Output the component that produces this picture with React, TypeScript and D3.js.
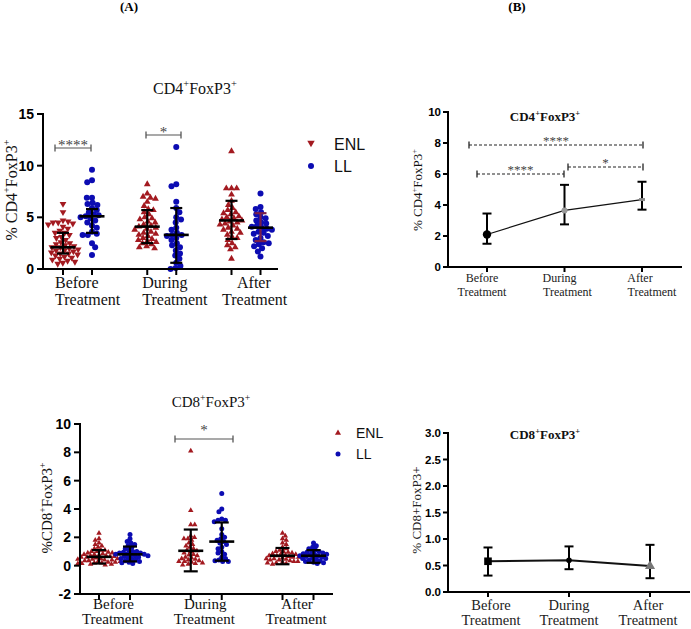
import React from "react";
import * as d3 from "d3";

const W = 691;
const H = 629;

const groups = ["Before", "During", "After"];
const xLine1 = ["Before", "During", "After"];
const xLine2 = ["Treatment", "Treatment", "Treatment"];

// ---------- (A) CD4+FoxP3+ scatter ----------
const cd4BeforeENL = [6.3, 5.5, 4.7, 4.6, 4.5, 4.5, 4.4, 4.3, 4.1, 3.9, 3.7, 3.5, 3.5, 3.3, 3.1, 3.0, 2.8, 2.6, 2.5, 2.4, 2.3, 2.2, 2.1, 2.1, 2.0, 1.9, 1.8, 1.8, 1.7, 1.6, 1.5, 1.5, 1.4, 1.3, 1.2, 1.1, 1.0, 0.9, 0.8, 0.7, 0.6, 0.5];
const cd4BeforeLL = [9.6, 8.6, 8.4, 6.9, 6.9, 6.4, 6.3, 6.2, 5.9, 5.7, 5.5, 5.3, 5.2, 5.1, 5.0, 4.9, 4.7, 4.5, 4.2, 4.0, 3.6, 3.4, 3.3, 3.3, 2.5, 2.1, 1.35];
const cd4DuringENL = [8.2, 7.3, 7.0, 6.9, 6.8, 6.5, 6.1, 5.8, 5.7, 5.5, 5.3, 5.0, 4.9, 4.8, 4.6, 4.5, 4.3, 4.2, 4.1, 4.0, 3.9, 3.8, 3.6, 3.5, 3.4, 3.3, 3.2, 3.0, 2.9, 2.8, 2.7, 2.6, 2.5, 2.4, 2.2, 2.1, 2.0];
const cd4DuringLL = [11.8, 8.2, 8.0, 6.5, 5.9, 5.5, 5.0, 4.8, 4.5, 4.0, 3.8, 3.5, 3.3, 3.3, 3.2, 3.0, 2.8, 2.5, 2.3, 2.1, 1.8, 1.5, 1.3, 1.0, 0.6, 0.3, 0.1, 0.0];
const cd4AfterENL = [11.4, 7.8, 7.8, 7.8, 7.2, 6.6, 6.2, 5.9, 5.7, 5.5, 5.4, 5.3, 5.1, 5.0, 4.9, 4.8, 4.7, 4.6, 4.5, 4.4, 4.3, 4.2, 4.0, 3.9, 3.8, 3.6, 3.5, 3.3, 3.1, 3.0, 2.8, 2.5, 2.3, 2.1, 1.9, 1.0];
const cd4AfterLL = [7.3, 6.0, 5.8, 5.5, 5.3, 5.0, 4.9, 4.7, 4.5, 4.4, 4.2, 4.1, 4.0, 3.9, 3.8, 3.6, 3.5, 3.4, 3.2, 3.0, 2.8, 2.6, 2.5, 2.4, 2.2, 2.0, 1.7, 1.2];

const cd4MedianENL = [2.1, 4.1, 4.7];
const cd4LowENL = [1.5, 2.5, 2.9];
const cd4HighENL = [3.5, 5.7, 6.6];
const cd4MedianLL = [5.1, 3.3, 4.0];
const cd4LowLL = [3.5, 0.6, 2.7];
const cd4HighLL = [5.8, 5.9, 5.4];
const cd4Ticks = [0, 5, 10, 15];

// ---------- (A) CD8+FoxP3+ scatter ----------
const cd8BeforeENL = [2.3, 1.9, 1.8, 1.6, 1.5, 1.4, 1.3, 1.2, 1.1, 1.1, 1.0, 1.0, 0.95, 0.9, 0.9, 0.85, 0.8, 0.8, 0.75, 0.7, 0.7, 0.65, 0.65, 0.6, 0.6, 0.55, 0.5, 0.5, 0.45, 0.45, 0.4, 0.4, 0.35, 0.35, 0.3, 0.3, 0.25, 0.25, 0.2, 0.2, 0.15, 0.15, 0.1, 0.1, 0.05];
const cd8BeforeLL = [2.2, 1.9, 1.7, 1.6, 1.5, 1.4, 1.3, 1.2, 1.1, 1.0, 1.0, 0.95, 0.9, 0.9, 0.85, 0.8, 0.8, 0.75, 0.7, 0.7, 0.65, 0.6, 0.55, 0.5, 0.45, 0.4, 0.35, 0.3, 0.25, 0.2, 0.15];
const cd8DuringENL = [8.1, 3.9, 2.9, 2.9, 2.1, 2.0, 1.9, 1.9, 1.8, 1.6, 1.5, 1.4, 1.3, 1.2, 1.1, 1.05, 1.0, 0.9, 0.8, 0.75, 0.7, 0.6, 0.55, 0.5, 0.45, 0.4, 0.35, 0.3, 0.3, 0.25, 0.2, 0.15, 0.1, 0.05];
const cd8DuringLL = [5.1, 4.0, 3.8, 3.3, 3.2, 3.2, 3.1, 2.6, 2.2, 2.0, 1.9, 1.8, 1.7, 1.6, 1.5, 1.3, 1.2, 1.0, 0.9, 0.8, 0.6, 0.5, 0.4, 0.35, 0.3, 0.3];
const cd8AfterENL = [2.3, 2.1, 1.9, 1.8, 1.6, 1.5, 1.3, 1.2, 1.1, 1.0, 1.0, 0.95, 0.9, 0.85, 0.8, 0.8, 0.75, 0.7, 0.7, 0.65, 0.6, 0.6, 0.55, 0.5, 0.5, 0.45, 0.4, 0.4, 0.35, 0.3, 0.3, 0.25, 0.2, 0.2, 0.15, 0.1];
const cd8AfterLL = [1.6, 1.4, 1.3, 1.2, 1.1, 1.0, 1.0, 0.95, 0.9, 0.85, 0.8, 0.8, 0.75, 0.7, 0.7, 0.65, 0.6, 0.55, 0.5, 0.5, 0.45, 0.4, 0.35, 0.3, 0.25, 0.2, 0.15];

const cd8MedianENL = [0.62, 1.05, 0.7];
const cd8LowENL = [0.15, -0.4, 0.1];
const cd8HighENL = [1.1, 2.55, 1.25];
const cd8MedianLL = [0.8, 1.7, 0.7];
const cd8LowLL = [0.3, 0.35, 0.2];
const cd8HighLL = [1.35, 3.05, 1.1];
const cd8Ticks = [-2, 0, 2, 4, 6, 8, 10];

// ---------- (B) means ----------
const cd4Mean = [2.1, 3.65, 4.35];
const cd4MeanLow = [1.5, 2.75, 3.7];
const cd4MeanHigh = [3.45, 5.3, 5.5];
const cd4MeanTicks = [0, 2, 4, 6, 8, 10];

const cd8Mean = [0.58, 0.6, 0.49];
const cd8MeanLow = [0.31, 0.43, 0.26];
const cd8MeanHigh = [0.84, 0.86, 0.89];
const cd8MeanTicks = [0, 0.5, 1.0, 1.5, 2.0, 2.5, 3.0];

const ENL_COLOR = "#A31A20";
const LL_COLOR = "#0C0CB2";
const MAROON = "#7A1E48";
const SERIF = "'Liberation Serif', 'Times New Roman', serif";
const SANS = "'Liberation Sans', Arial, sans-serif";

function swarm(ys: number[], d: number): number[] {
  const idx = ys.map((_, i) => i).sort((a, b) => ys[a] - ys[b]);
  const placed: { x: number; y: number }[] = [];
  const out: number[] = new Array(ys.length).fill(0);
  let flip = 1;
  for (const i of idx) {
    const y = ys[i];
    const near = placed.filter((p) => Math.abs(p.y - y) < d);
    const cands = [0];
    for (const p of near) {
      const dx = Math.sqrt(d * d - (p.y - y) * (p.y - y));
      cands.push(p.x + dx, p.x - dx);
    }
    cands.sort((a, b) => Math.abs(a) - Math.abs(b) || flip * (a - b));
    let chosen = 0;
    for (const c of cands) {
      if (near.every((p) => (p.x - c) ** 2 + (p.y - y) ** 2 >= d * d - 1e-6)) {
        chosen = c;
        break;
      }
    }
    flip = -flip;
    placed.push({ x: chosen, y });
    out[i] = chosen;
  }
  return out;
}

function SupText(props: {
  x: number;
  y: number;
  parts: [string, boolean][];
  fontSize: number;
  fontWeight?: string;
  anchor?: string;
  transform?: string;
  family?: string;
}) {
  const { x, y, parts, fontSize, fontWeight, anchor, transform, family } = props;
  let prevSup = false;
  const shift = fontSize * 0.42;
  return (
    <text
      x={x}
      y={y}
      fontSize={fontSize}
      fontFamily={family || SERIF}
      fontWeight={fontWeight || "normal"}
      textAnchor={anchor || "middle"}
      transform={transform}
      fill="#111"
    >
      {parts.map(([t, sup], i) => {
        let dy = 0;
        if (sup && !prevSup) dy = -shift;
        if (!sup && prevSup) dy = shift;
        prevSup = sup;
        return (
          <tspan key={i} dy={dy} fontSize={sup ? fontSize * 0.65 : fontSize}>
            {t}
          </tspan>
        );
      })}
    </text>
  );
}

type ScatterCfg = {
  y: d3.ScaleLinear<number, number>;
  x: d3.ScalePoint<string>;
  sub: number;
  axisX: number;
  axisY: number;
  xEnd: number;
  yTop: number;
  ticks: number[];
  tickFont: number;
  enl: number[][];
  ll: number[][];
  medENL: number[];
  lowENL: number[];
  highENL: number[];
  medLL: number[];
  lowLL: number[];
  highLL: number[];
  llBarColor: string[];
  enlDown: boolean[];
  triSize: number;
  dotR: number;
  gap: number;
  medW: number;
  capW: number;
};

function ScatterPanel({ c }: { c: ScatterCfg }) {
  const tri = d3.symbol().type(d3.symbolTriangle).size(c.triSize)() as string;
  const els: React.ReactNode[] = [];
  groups.forEach((g, gi) => {
    const cx = c.x(g) as number;
    const xe = cx - c.sub;
    const xl = cx + c.sub;
    const ye = c.enl[gi].map((v) => c.y(v));
    const yl = c.ll[gi].map((v) => c.y(v));
    const oe = swarm(ye, c.gap);
    const ol = swarm(yl, c.gap);
    ye.forEach((py, i) =>
      els.push(
        <path
          key={`e${gi}-${i}`}
          d={tri}
          fill={ENL_COLOR}
          transform={`translate(${xe + oe[i]},${py})${c.enlDown[gi] ? " rotate(180)" : ""}`}
        />
      )
    );
    yl.forEach((py, i) =>
      els.push(<circle key={`l${gi}-${i}`} cx={xl + ol[i]} cy={py} r={c.dotR} fill={LL_COLOR} />)
    );
  });
  groups.forEach((g, gi) => {
    const cx = c.x(g) as number;
    const bars = [
      { x: cx - c.sub, m: c.medENL[gi], lo: c.lowENL[gi], hi: c.highENL[gi], col: "#000" },
      { x: cx + c.sub, m: c.medLL[gi], lo: c.lowLL[gi], hi: c.highLL[gi], col: c.llBarColor[gi] },
    ];
    bars.forEach((b, bi) => {
      els.push(
        <g key={`b${gi}-${bi}`} strokeWidth={2.2}>
          <line x1={b.x} x2={b.x} y1={c.y(b.lo)} y2={c.y(b.hi)} stroke={b.col} />
          <line x1={b.x - c.capW / 2} x2={b.x + c.capW / 2} y1={c.y(b.lo)} y2={c.y(b.lo)} stroke={b.col} />
          <line x1={b.x - c.capW / 2} x2={b.x + c.capW / 2} y1={c.y(b.hi)} y2={c.y(b.hi)} stroke={b.col} />
          <line x1={b.x - c.medW / 2} x2={b.x + c.medW / 2} y1={c.y(b.m)} y2={c.y(b.m)} stroke="#000" strokeWidth={2.6} />
        </g>
      );
    });
  });
  return (
    <g>
      {els}
      <line x1={c.axisX} x2={c.axisX} y1={c.yTop - 1} y2={c.axisY + 1} stroke="#000" strokeWidth={2} />
      <line x1={c.axisX - 1} x2={c.xEnd} y1={c.axisY} y2={c.axisY} stroke="#000" strokeWidth={2} />
      {c.ticks.map((t) => (
        <g key={`t${t}`}>
          <line x1={c.axisX - 6} x2={c.axisX} y1={c.y(t)} y2={c.y(t)} stroke="#000" strokeWidth={2} />
          <text
            x={c.axisX - 9}
            y={c.y(t)}
            dy="0.36em"
            textAnchor="end"
            fontFamily={SANS}
            fontWeight="bold"
            fontSize={c.tickFont}
            fill="#000"
          >
            {t}
          </text>
        </g>
      ))}
      {groups.map((g) => {
        const cx = c.x(g) as number;
        return (
          <g key={`xt${g}`}>
            <line x1={cx - c.sub} x2={cx - c.sub} y1={c.axisY} y2={c.axisY + 6} stroke="#000" strokeWidth={2} />
            <line x1={cx + c.sub} x2={cx + c.sub} y1={c.axisY} y2={c.axisY + 6} stroke="#000" strokeWidth={2} />
          </g>
        );
      })}
    </g>
  );
}

function Bracket({ x1, x2, y, dashed, label, labelY, font }: { x1: number; x2: number; y: number; dashed?: boolean; label: string; labelY: number; font: number }) {
  const col = dashed ? "#222" : "#555";
  return (
    <g>
      <line x1={x1} x2={x2} y1={y} y2={y} stroke={col} strokeWidth={1.2} strokeDasharray={dashed ? "3,2" : undefined} />
      <line x1={x1} x2={x1} y1={y - 3.5} y2={y + 3.5} stroke={col} strokeWidth={1.3} />
      <line x1={x2} x2={x2} y1={y - 3.5} y2={y + 3.5} stroke={col} strokeWidth={1.3} />
      <text x={(x1 + x2) / 2} y={labelY} textAnchor="middle" fontFamily={SERIF} fontSize={font} fill="#444">
        {label}
      </text>
    </g>
  );
}

function MeanPanel(props: {
  y: d3.ScaleLinear<number, number>;
  x: d3.ScalePoint<string>;
  axisX: number;
  axisY: number;
  xEnd: number;
  yTop: number;
  ticks: number[];
  fmt: (n: number) => string;
  mean: number[];
  low: number[];
  high: number[];
  lineW: number;
  markers: ("circle" | "smallgrey" | "dash" | "square" | "dot" | "triangle")[];
}) {
  const { y, x, axisX, axisY, xEnd, yTop, ticks, fmt, mean, low, high, lineW, markers } = props;
  const line = d3
    .line<number>()
    .x((_, i) => x(groups[i]) as number)
    .y((v) => y(v));
  const tri = d3.symbol().type(d3.symbolTriangle).size(45)() as string;
  return (
    <g>
      <path d={line(mean) as string} fill="none" stroke="#111" strokeWidth={lineW} />
      {groups.map((g, i) => {
        const cx = x(g) as number;
        return (
          <g key={g} stroke="#000" strokeWidth={2}>
            <line x1={cx} x2={cx} y1={y(low[i])} y2={y(high[i])} />
            <line x1={cx - 4.5} x2={cx + 4.5} y1={y(low[i])} y2={y(low[i])} />
            <line x1={cx - 4.5} x2={cx + 4.5} y1={y(high[i])} y2={y(high[i])} />
          </g>
        );
      })}
      {groups.map((g, i) => {
        const cx = x(g) as number;
        const cy = y(mean[i]);
        const m = markers[i];
        if (m === "circle") return <circle key={g} cx={cx} cy={cy} r={4.2} fill="#000" />;
        if (m === "smallgrey") return <circle key={g} cx={cx} cy={cy} r={3} fill="#999" />;
        if (m === "dash") return <rect key={g} x={cx - 3} y={cy - 1.5} width={6} height={3} fill="#888" />;
        if (m === "square") return <rect key={g} x={cx - 3.8} y={cy - 3.8} width={7.6} height={7.6} fill="#000" />;
        if (m === "dot") return <circle key={g} cx={cx} cy={cy} r={2.8} fill="#000" />;
        return <path key={g} d={tri} transform={`translate(${cx},${cy})`} fill="#777" />;
      })}
      <line x1={axisX} x2={axisX} y1={yTop - 1} y2={axisY + 1} stroke="#000" strokeWidth={2} />
      <line x1={axisX - 1} x2={xEnd} y1={axisY} y2={axisY} stroke="#000" strokeWidth={2} />
      {ticks.map((t) => (
        <g key={`t${t}`}>
          <line x1={axisX - 5} x2={axisX} y1={y(t)} y2={y(t)} stroke="#000" strokeWidth={2} />
          <text x={axisX - 7} y={y(t)} dy="0.36em" textAnchor="end" fontFamily={SANS} fontWeight="bold" fontSize={11.5} fill="#000">
            {fmt(t)}
          </text>
        </g>
      ))}
      {groups.map((g) => (
        <line key={`xt${g}`} x1={x(g) as number} x2={x(g) as number} y1={axisY} y2={axisY + 5} stroke="#000" strokeWidth={2} />
      ))}
    </g>
  );
}

export default function App() {
  const yA1 = d3.scaleLinear().domain([0, 15]).range([269, 114]);
  const xA1 = d3.scalePoint<string>().domain(groups).range([77.5, 246]);
  const cfgA1: ScatterCfg = {
    y: yA1,
    x: xA1,
    sub: 14.5,
    axisX: 43,
    axisY: 269,
    xEnd: 278,
    yTop: 114,
    ticks: cd4Ticks,
    tickFont: 14,
    enl: [cd4BeforeENL, cd4DuringENL, cd4AfterENL],
    ll: [cd4BeforeLL, cd4DuringLL, cd4AfterLL],
    medENL: cd4MedianENL,
    lowENL: cd4LowENL,
    highENL: cd4HighENL,
    medLL: cd4MedianLL,
    lowLL: cd4LowLL,
    highLL: cd4HighLL,
    llBarColor: ["#000", "#000", MAROON],
    enlDown: [true, false, false],
    triSize: 20,
    dotR: 3,
    gap: 5.2,
    medW: 25,
    capW: 12,
  };

  const yA2 = d3.scaleLinear().domain([-2, 10]).range([594, 424]);
  const xA2 = d3.scalePoint<string>().domain(groups).range([114.5, 298]);
  const cfgA2: ScatterCfg = {
    y: yA2,
    x: xA2,
    sub: 15.5,
    axisX: 80,
    axisY: 594,
    xEnd: 333,
    yTop: 424,
    ticks: cd8Ticks,
    tickFont: 14,
    enl: [cd8BeforeENL, cd8DuringENL, cd8AfterENL],
    ll: [cd8BeforeLL, cd8DuringLL, cd8AfterLL],
    medENL: cd8MedianENL,
    lowENL: cd8LowENL,
    highENL: cd8HighENL,
    medLL: cd8MedianLL,
    lowLL: cd8LowLL,
    highLL: cd8HighLL,
    llBarColor: ["#000", "#000", "#000"],
    enlDown: [false, false, false],
    triSize: 13,
    dotR: 2.5,
    gap: 4.0,
    medW: 25,
    capW: 14,
  };

  const yB1 = d3.scaleLinear().domain([0, 10]).range([267, 112]);
  const xB1 = d3.scalePoint<string>().domain(groups).range([487, 642]);
  const yB2 = d3.scaleLinear().domain([0, 3]).range([592, 433]);
  const xB2 = d3.scalePoint<string>().domain(groups).range([488, 650]);

  const triDown = d3.symbol().type(d3.symbolTriangle).size(24)() as string;
  const triUp = d3.symbol().type(d3.symbolTriangle).size(16)() as string;

  const a1LabelStart = [
    [-22.5, -22.5],
    [-19.5, -19.5],
    [-9, -24],
  ];

  return (
    <svg width={W} height={H} style={{ position: "absolute", left: 0, top: 0, background: "#fff" }}>
      <rect x={0} y={0} width={W} height={H} fill="#fff" />
      <text x={129} y={11} textAnchor="middle" fontFamily={SERIF} fontWeight="bold" fontSize={13}>(A)</text>
      <text x={517} y={11} textAnchor="middle" fontFamily={SERIF} fontWeight="bold" fontSize={13}>(B)</text>

      {/* ===== A top ===== */}
      <SupText x={195} y={94} fontSize={16} parts={[["CD4", false], ["+", true], ["FoxP3", false], ["+", true]]} />
      <SupText
        x={0}
        y={0}
        fontSize={16}
        transform="translate(17,190) rotate(-90)"
        parts={[["% CD4", false], ["+", true], ["FoxP3", false], ["+", true]]}
      />
      <ScatterPanel c={cfgA1} />
      {groups.map((g, i) => {
        const cx = xA1(g) as number;
        return (
          <g key={`la1${g}`} fontFamily={SERIF} fontSize={16} fill="#111">
            <text x={cx + a1LabelStart[i][0]} y={288}>{xLine1[i]}</text>
            <text x={cx + a1LabelStart[i][1]} y={305}>{xLine2[i]}</text>
          </g>
        );
      })}
      <Bracket x1={55} x2={91} y={148} label="****" labelY={150} font={15} />
      <Bracket x1={146} x2={181} y={135} label="*" labelY={137} font={15} />
      <path d={triDown} fill={ENL_COLOR} transform="translate(311,143) rotate(180)" />
      <text x={334} y={150} fontFamily={SANS} fontSize={16} fill="#111">ENL</text>
      <circle cx={311} cy={166} r={3} fill={LL_COLOR} />
      <text x={334} y={172} fontFamily={SANS} fontSize={16} fill="#111">LL</text>

      {/* ===== A bottom ===== */}
      <SupText x={211} y={407} fontSize={15} parts={[["CD8", false], ["+", true], ["FoxP3", false], ["+", true]]} />
      <SupText
        x={0}
        y={0}
        fontSize={15}
        transform="translate(52,508) rotate(-90)"
        parts={[["%CD8", false], ["+", true], ["FoxP3", false], ["+", true]]}
      />
      <ScatterPanel c={cfgA2} />
      {groups.map((g, i) => {
        const cx = xA2(g) as number;
        return (
          <g key={`la2${g}`} fontFamily={SERIF} fontSize={15} fill="#111" textAnchor="middle">
            <text x={cx - 1} y={609}>{xLine1[i]}</text>
            <text x={cx - 2} y={624}>{xLine2[i]}</text>
          </g>
        );
      })}
      <Bracket x1={175} x2={233} y={439} label="*" labelY={435} font={15} />
      <path d={triUp} fill={ENL_COLOR} transform="translate(338,433)" />
      <text x={356} y={438} fontFamily={SANS} fontSize={14} fill="#111">ENL</text>
      <circle cx={338} cy={454} r={2.5} fill={LL_COLOR} />
      <text x={356} y={459} fontFamily={SANS} fontSize={14} fill="#111">LL</text>

      {/* ===== B top ===== */}
      <SupText x={545} y={121} fontSize={13} fontWeight="bold" parts={[["CD4", false], ["+", true], ["FoxP3", false], ["+", true]]} />
      <SupText
        x={0}
        y={0}
        fontSize={13}
        transform="translate(422,190) rotate(-90)"
        parts={[["% CD4", false], ["+", true], ["FoxP3", false], ["+", true]]}
      />
      <MeanPanel
        y={yB1}
        x={xB1}
        axisX={448}
        axisY={267}
        xEnd={682}
        yTop={112}
        ticks={cd4MeanTicks}
        fmt={(n) => String(n)}
        mean={cd4Mean}
        low={cd4MeanLow}
        high={cd4MeanHigh}
        lineW={1.2}
        markers={["circle", "smallgrey", "dash"]}
      />
      {groups.map((g, i) => {
        const cx = xB1(g) as number;
        const off1 = [-5, -5, -2][i];
        const off2 = [-5, 3, 10][i];
        return (
          <g key={`lb1${g}`} fontFamily={SERIF} fontSize={12} fill="#222" textAnchor="middle">
            <text x={cx + off1} y={282}>{xLine1[i]}</text>
            <text x={cx + off2} y={295.5}>{xLine2[i]}</text>
          </g>
        );
      })}
      <Bracket x1={469} x2={643} y={145} dashed label="****" labelY={145} font={13} />
      <Bracket x1={477} x2={564} y={174} dashed label="****" labelY={174} font={13} />
      <Bracket x1={568} x2={643} y={167} dashed label="*" labelY={167} font={13} />

      {/* ===== B bottom ===== */}
      <SupText x={545} y={439} fontSize={13} fontWeight="bold" parts={[["CD8", false], ["+", true], ["FoxP3", false], ["+", true]]} />
      <text transform="translate(421,510) rotate(-90)" textAnchor="middle" fontFamily={SERIF} fontSize={13} fill="#222">
        %  CD8+FoxP3+
      </text>
      <MeanPanel
        y={yB2}
        x={xB2}
        axisX={448}
        axisY={592}
        xEnd={690}
        yTop={433}
        ticks={cd8MeanTicks}
        fmt={(n) => n.toFixed(1)}
        mean={cd8Mean}
        low={cd8MeanLow}
        high={cd8MeanHigh}
        lineW={2}
        markers={["square", "dot", "triangle"]}
      />
      {groups.map((g, i) => {
        const cx = xB2(g) as number;
        const off = [3, 0, -2][i];
        return (
          <g key={`lb2${g}`} fontFamily={SERIF} fontSize={14.5} fill="#222" textAnchor="middle">
            <text x={cx + off} y={610}>{xLine1[i]}</text>
            <text x={cx + off} y={625}>{xLine2[i]}</text>
          </g>
        );
      })}
    </svg>
  );
}
